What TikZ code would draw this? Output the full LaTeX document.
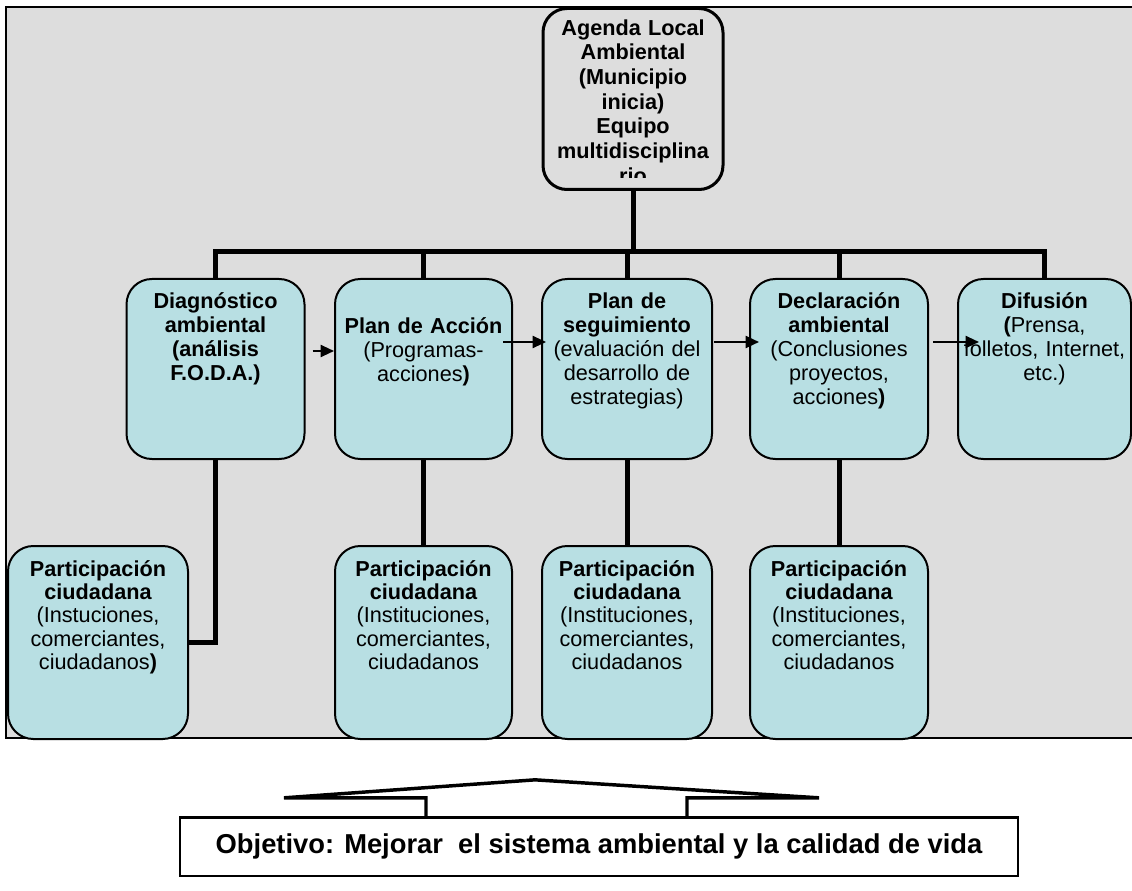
\documentclass[tikz,border=0pt]{standalone}
\usepackage{fontspec}
\setmainfont{Liberation Sans}
\usetikzlibrary{arrows.meta}
\definecolor{panelgray}{RGB}{221,221,221}
\definecolor{boxcyan}{RGB}{184,223,227}

\begin{document}
\begin{tikzpicture}[x=0.75pt, y=-0.75pt,
	card/.style = {shape=rectangle, draw, line width=1.5pt, rounded corners=19pt, fill=boxcyan, align=center, inner sep=0pt, anchor=north, font=\fontsize{16.25}{18}\selectfont},
	stage/.style = {card, text width=#1, text height=22.5pt, text depth=112.5pt},
	citizen/.style = {card, text width=#1, text height=22.5pt, text depth=122.25pt, font=\fontsize{16.25}{17.5}\selectfont},
	head/.style = {shape=rectangle, draw, line width=2.25pt, rounded corners=18pt, inner sep=0pt, anchor=north, minimum width=135pt, minimum height=135.75pt},
	headtext/.style = {align=center, inner sep=0pt, anchor=north, text width=135pt, text height=21pt, font=\bfseries\fontsize{16.25}{18.5}\selectfont},
	goal/.style = {shape=rectangle, draw, line width=2pt, fill=white, minimum width=628.5pt, minimum height=44pt, font=\bfseries\fontsize{20.5}{24}\selectfont},
	trunk/.style = {line width=3.75pt},
	flow/.style = {line width=1.5pt, -{Triangle[length=10pt, width=9pt]}},
	roof/.style = {line width=2.6pt}]
	\useasboundingbox (0,0) rectangle (1132,891);
	\draw[line width=1.5pt, fill=panelgray] (6,7) rectangle (1140,738);

	\node[head] (agenda) at (633,7) {};
	\begin{scope}
		\clip (agenda.north west) rectangle ([yshift=10pt]agenda.south east);
		\node[headtext] at (agenda.north) {Agenda Local\\Ambiental\\(Municipio\\inicia)\\Equipo\\multidisciplina\\rio};
	\end{scope}
	\coordinate (hub) at (633,252);

	\node[stage=133.5pt] (diag) at (215.5,278) {{\bfseries Diagnóstico\\ambiental\\(análisis\\F.O.D.A.)}};
	\node[stage=132.75pt, text height=41pt, text depth=94pt] (plan) at (423.5,278) {{\bfseries Plan de Acción}\\(Programas-\\acciones\textbf{)}};
	\node[stage=127.5pt] (segui) at (627,278) {{\bfseries Plan de\\seguimiento}\\(evaluación del\\desarrollo de\\estrategias)};
	\node[stage=133.5pt] (decla) at (839,278) {{\bfseries Declaración\\ambiental}\\(Conclusiones\\proyectos,\\acciones\textbf{)}};
	\node[stage=129.75pt] (difu) at (1044.5,278) {{\bfseries Difusión\\(}Prensa,\\folletos, Internet,\\etc.)};

	\node[citizen=135pt] (part1) at (98,545) {{\bfseries Participación\\ciudadana}\\(Instuciones,\\comerciantes,\\ciudadanos\textbf{)}};
	\foreach \n/\x/\w in {part2/423.5/132.75pt, part3/627/127.5pt, part4/839/133.5pt}
		\node[citizen=\w] (\n) at (\x,545) {{\bfseries Participación\\ciudadana}\\(Instituciones,\\comerciantes,\\ciudadanos};

	\draw[trunk] (agenda) -- (hub);
	\draw[trunk] (diag.north) |- (hub) -| (difu.north);
	\foreach \n in {plan,segui,decla}
		\draw[trunk] (\n.north) -- (\n.north |- hub);
	\draw[trunk] (diag) |- (part1);
	\foreach \a/\b in {plan/part2, segui/part3, decla/part4}
		\draw[trunk] (\a) -- (\b);

	\draw[flow] ([shift={(7,-18)}]diag.east) -- ([shift={(0,-18)}]plan.west);
	\draw[flow] ([shift={(-10,-27)}]plan.east) -- ([shift={(5,-27)}]segui.west);
	\draw[flow] ([shift={(1,-27)}]segui.east) -- ([shift={(10,-27)}]decla.west);
	\draw[flow] ([shift={(4,-27)}]decla.east) -- ([shift={(22,-27)}]difu.west);

	\node[goal] (obj) at (599,846.5) {Objetivo: Mejorar\ \ el sistema ambiental y la calidad de vida};
	\draw[roof] ([xshift=-129.75pt]obj.north) -- ++(0,-18) -- ++(-142,0) -- ++(251,-18) -- ++(284,18) -- ++(-132,0) -- ++(0,18);
\end{tikzpicture}
\end{document}
